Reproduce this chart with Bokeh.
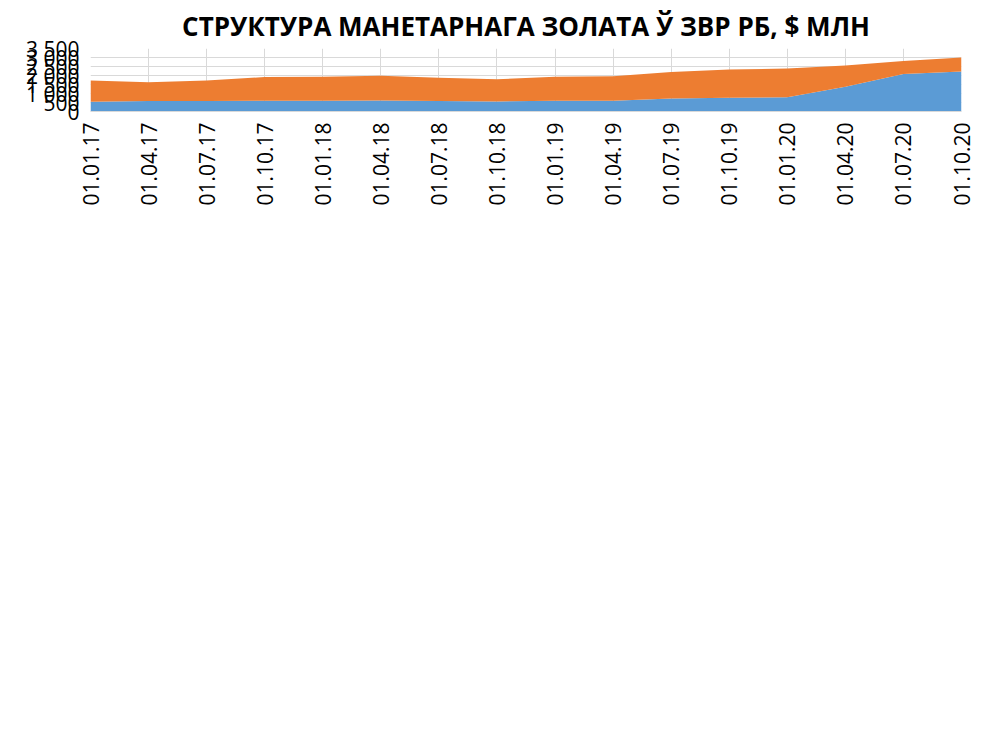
from bokeh.plotting import figure
from bokeh.models import Legend, LegendItem, FixedTicker, ColumnDataSource
from bokeh.embed import file_html
from bokeh.resources import INLINE
import math

dates = ["01.01.17","01.04.17","01.07.17","01.10.17","01.01.18","01.04.18","01.07.18","01.10.18",
         "01.01.19","01.04.19","01.07.19","01.10.19","01.01.20","01.04.20","01.07.20","01.10.20"]
bullion = [545,580,580,595,600,615,585,555,595,600,720,760,785,1380,2090,2220]
accounts = [1175,1050,1145,1320,1335,1370,1295,1230,1340,1360,1480,1570,1600,1175,710,775]
yticks = [0,500,1000,1500,2000,2500,3000,3500]

x = list(range(len(dates)))
src = ColumnDataSource(dict(x=x, bullion=bullion, accounts=accounts))
F = "Open Sans"
p = figure(width=981, height=728, output_backend="svg", toolbar_location=None,
           x_range=(0, len(dates)-1), y_range=(0, 3500),
           title="СТРУКТУРА МАНЕТАРНАГА ЗОЛАТА Ў ЗВР РБ, $ МЛН")
p.title.align = "center"; p.title.text_font = F; p.title.text_font_size = "26px"
p.title.text_font_style = "bold"; p.title.text_color = "#000000"
r = p.varea_stack(stackers=["bullion","accounts"], x="x", color=["#5B9BD5","#ED7D31"], source=src)
p.xaxis.ticker = FixedTicker(ticks=x)
p.xaxis.major_label_overrides = {i: d for i, d in enumerate(dates)}
p.xaxis.major_label_orientation = math.pi/2
p.yaxis.ticker = FixedTicker(ticks=yticks)
p.yaxis.major_label_overrides = {v: (f"{v:,}".replace(",", " ")) for v in yticks}
for ax in (p.xaxis[0], p.yaxis[0]):
    ax.major_label_text_font = F; ax.major_label_text_font_size = "21px"
    ax.major_label_text_color = "#000000"
    ax.major_tick_line_color = None; ax.minor_tick_line_color = None
    ax.axis_line_color = "#D9D9D9"
p.yaxis.axis_line_color = None
p.grid.grid_line_color = "#D9D9D9"
p.outline_line_color = None
p.min_border_left = 90; p.min_border_right = 20
leg = Legend(items=[LegendItem(label="золата ў злітках", renderers=[r[0]]),
                    LegendItem(label="абязлічаныя залатыя рахункі", renderers=[r[1]])],
             orientation="horizontal", location=(0, 0), border_line_color=None,
             label_text_font=F, label_text_font_size="28px", glyph_width=28, glyph_height=28,
             spacing=50, padding=5, margin=10)
p.add_layout(leg, "below")
open("out.html", "w").write(file_html(p, INLINE))
